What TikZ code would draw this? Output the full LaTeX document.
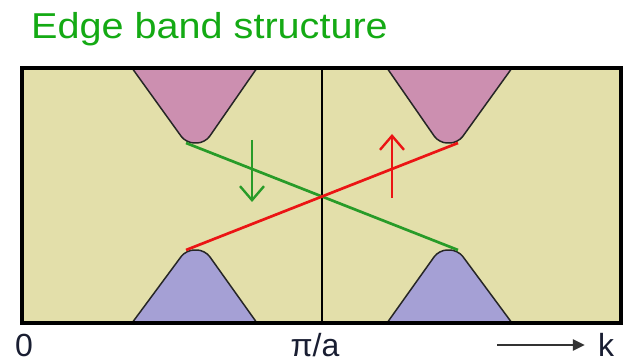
\documentclass[tikz,border=0pt]{standalone}
\usepackage{fontspec}
\setmainfont{Liberation Sans}
\usetikzlibrary{arrows.meta}

\definecolor{bgband}{RGB}{227,223,170}
\definecolor{condband}{RGB}{204,143,176}
\definecolor{valband}{RGB}{165,160,213}
\definecolor{spindown}{RGB}{40,155,40}
\definecolor{spinup}{RGB}{235,20,20}
\definecolor{titlegreen}{RGB}{20,170,20}
\definecolor{labelcol}{RGB}{25,30,50}

\tikzset{
    band/.style={draw=black!85, line width=1.5pt, rounded corners=8pt},
    edgestate/.style={line width=2.7pt},
    spinarrow/.style={line width=2.4pt, -{Straight Barb[length=14pt, width=24pt]}},
    axislabel/.style={font=\fontsize{32}{36}\selectfont, text=labelcol, anchor=base, inner sep=0pt}
}

\begin{document}
\begin{tikzpicture}[x=1pt, y=-1pt]
    \useasboundingbox (0, 0) rectangle (623, 363);

    % Title
    \node[anchor=base west, inner sep=0pt, text=titlegreen, font=\fontsize{36}{40}\selectfont]
        (title) at (31, 39) {\scalebox{1.1}[1]{Edge band structure}};

    % Background
    \fill[bgband] (22, 68) rectangle (621, 323);

    % Points
    \coordinate (CL) at (186, 143);
    \coordinate (CR) at (458, 143);
    \coordinate (VL) at (186, 250);
    \coordinate (VR) at (458, 250);

    % Bands
    \draw[band, fill=condband] (132, 68) -- (CL) -- (205, 143) -- (257, 68);
    \draw[band, fill=condband] (387, 68) -- (439, 143) -- (CR) -- (512, 68);
    \draw[band, fill=valband] (132, 323) -- (VL) -- (205, 250) -- (257, 323);
    \draw[band, fill=valband] (387, 323) -- (439, 250) -- (VR) -- (512, 323);

    % Frame
    \draw[line width=1.4pt] (322, 68) -- (322, 323);
    \draw[line width=3.2pt] (22, 68) rectangle (621, 323);

    % Lines
    \draw[edgestate, spindown] (CL) -- (VR);
    \draw[edgestate, spinup] (VL) -- (CR);

    % Spin arrows
    \coordinate (dntop) at (252, 140);
    \coordinate (dnbot) at (252, 202);
    \coordinate (upbot) at (392, 198);
    \coordinate (uptop) at (392, 134);
    \draw[spinarrow, spindown] (dntop) -- (dnbot);
    \draw[spinarrow, spinup] (upbot) -- (uptop);

    % Labels
    \node[axislabel] (zero) at (24, 356) {0};
    \node[axislabel] (pia) at (315, 356) {π/a};
    \node[axislabel] (k) at (606, 356) {k};
    \coordinate (kstart) at (497, 345);
    \draw[line width=2.4pt, black!80, -{Triangle[length=12pt, width=11pt]}] (kstart) -- ([xshift=-13pt]k.base west |- kstart);
\end{tikzpicture}
\end{document}
